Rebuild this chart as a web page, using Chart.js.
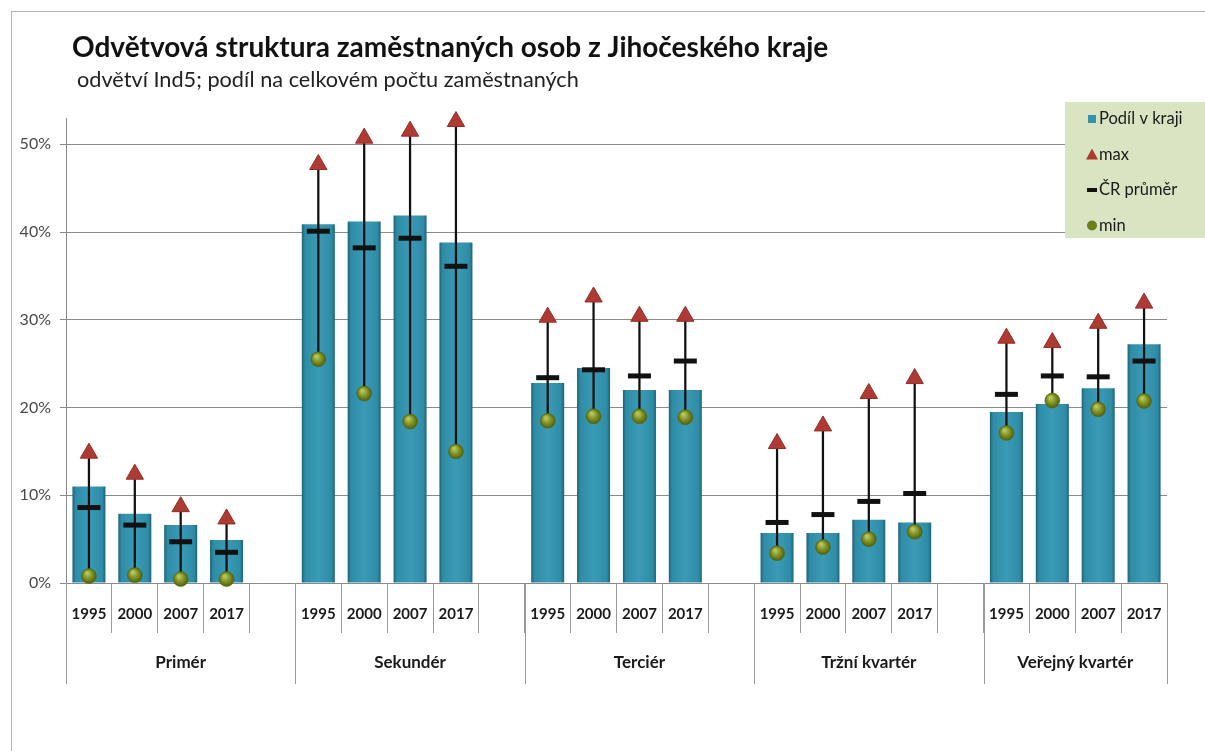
<!DOCTYPE html>
<html>
<head>
<meta charset="utf-8">
<script src="https://cdn.jsdelivr.net/npm/chart.js@4/dist/chart.umd.min.js"></script>
<style>
  html, body { margin: 0; padding: 0; background: #fff; }
  #wrap { width: 1205px; height: 751px; position: relative; }
</style>
</head>
<body>
<div id="wrap"><canvas id="myChart" width="1205" height="751"></canvas></div>
<script>
var years = ['1995', '2000', '2007', '2017'];
var groups = ['Primér', 'Sekundér', 'Terciér', 'Tržní kvartér', 'Veřejný kvartér'];
var yTicks = [0, 10, 20, 30, 40, 50];

// values in %, null = empty gap slot between groups
var share = [11.0, 7.9, 6.6, 4.9, null, 40.9, 41.2, 41.9, 38.8, null, 22.8, 24.5, 22.0, 22.0, null, 5.7, 5.7, 7.2, 6.9, null, 19.5, 20.4, 22.2, 27.2];
var maxVal = [14.8, 12.4, 8.7, 7.3, null, 47.7, 50.7, 51.5, 52.6, null, 30.3, 32.6, 30.4, 30.4, null, 15.9, 17.9, 21.6, 23.3, null, 27.9, 27.4, 29.6, 31.9];
var avgCR = [8.6, 6.6, 4.7, 3.5, null, 40.1, 38.2, 39.3, 36.1, null, 23.4, 24.3, 23.6, 25.3, null, 6.9, 7.8, 9.3, 10.2, null, 21.5, 23.6, 23.5, 25.3];
var minVal = [0.8, 0.9, 0.45, 0.45, null, 25.5, 21.6, 18.4, 15.0, null, 18.5, 19.0, 19.0, 18.9, null, 3.4, 4.1, 5.0, 5.85, null, 17.1, 20.8, 19.8, 20.75];

var labels = [];
groups.forEach(function (g, gi) {
  years.forEach(function (y) { labels.push(y); });
  if (gi < groups.length - 1) labels.push('');
});
var ranges = minVal.map(function (m, i) { return m === null ? null : [m, maxVal[i]]; });

var FONT = 'Lato, "Open Sans", sans-serif';

function barFill(ctx) {
  var chart = ctx.chart;
  var xs = chart.scales.x;
  if (!xs || ctx.dataIndex === undefined) return '#3393ae';
  var cx = xs.getPixelForValue(ctx.dataIndex);
  if (!isFinite(cx)) return '#3393ae';
  var w = 33;
  var g = chart.ctx.createLinearGradient(cx - w / 2, 0, cx + w / 2, 0);
  g.addColorStop(0, '#1d6479');
  g.addColorStop(0.1, '#2f8ca6');
  g.addColorStop(0.5, '#3a9bb6');
  g.addColorStop(0.9, '#2f8ca6');
  g.addColorStop(1, '#1d6479');
  return g;
}

function ballFill(ctx) {
  var chart = ctx.chart;
  var xs = chart.scales.x, ys = chart.scales.y;
  if (!xs || !ys || ctx.dataIndex === undefined || ctx.raw === null || ctx.raw === undefined) return '#788a22';
  var cx = xs.getPixelForValue(ctx.dataIndex);
  var cy = ys.getPixelForValue(ctx.raw);
  if (!isFinite(cx) || !isFinite(cy)) return '#788a22';
  var g = chart.ctx.createRadialGradient(cx - 2, cy - 3, 1, cx, cy, 8);
  g.addColorStop(0, '#b9c65a');
  g.addColorStop(0.5, '#7f9124');
  g.addColorStop(1, '#4c5a0a');
  return g;
}

var decor = {
  id: 'decor',
  beforeDraw: function (chart) {
    var c = chart.ctx;
    c.save();
    c.fillStyle = '#fff';
    c.fillRect(0, 0, chart.width, chart.height);
    c.strokeStyle = '#b4b4b4';
    c.lineWidth = 1;
    c.strokeRect(11.5, 11.5, chart.width, chart.height);
    c.fillStyle = '#111';
    c.font = 'bold 28px ' + FONT;
    c.textBaseline = 'alphabetic';
    c.fillText('Odvětvová struktura zaměstnaných osob z Jihočeského kraje', 72, 57);
    c.fillStyle = '#222';
    c.font = '21.7px ' + FONT;
    c.fillText('odvětví Ind5; podíl na celkovém počtu zaměstnaných', 77, 87);
    c.restore();
  },
  afterDraw: function (chart) {
    var c = chart.ctx;
    var xs = chart.scales.x;
    var area = chart.chartArea;
    var step = xs.getPixelForValue(1) - xs.getPixelForValue(0);
    c.save();
    // group separators and group labels
    c.strokeStyle = '#9a9a9a';
    c.lineWidth = 1;
    var start = 0;
    groups.forEach(function (g, gi) {
      var n = gi < groups.length - 1 ? 5 : 4;
      var x0 = xs.getPixelForValue(start) - step / 2;
      var x1 = xs.getPixelForValue(start + n - 1) + step / 2;
      c.beginPath();
      c.moveTo(Math.round(x0) + 0.5, area.bottom);
      c.lineTo(Math.round(x0) + 0.5, area.bottom + 101);
      c.stroke();
      if (gi === groups.length - 1) {
        c.beginPath();
        c.moveTo(Math.round(x1) + 0.5, area.bottom);
        c.lineTo(Math.round(x1) + 0.5, area.bottom + 101);
        c.stroke();
      }
      c.fillStyle = '#1a1a1a';
      c.font = 'bold 17px ' + FONT;
      c.textAlign = 'center';
      c.textBaseline = 'middle';
      c.fillText(g, (x0 + x1) / 2, area.bottom + 80);
      start += n;
    });

    // legend
    var lx = 1065, ly = 102;
    c.fillStyle = '#d8e4c2';
    c.fillRect(lx, ly, 150, 136);
    var ds = chart.data.datasets;
    var items = [ds[0], ds[3], ds[2], ds[1]];
    c.font = '16.5px ' + FONT;
    c.textAlign = 'left';
    c.textBaseline = 'middle';
    items.forEach(function (d, i) {
      var y = ly + 17 + i * 35.5;
      var ix = lx + 27;
      if (d.type === 'bar') {
        c.fillStyle = '#3393ae';
        c.fillRect(ix - 4, y - 4, 8, 8);
      } else if (d.pointStyle === 'triangle') {
        c.fillStyle = d.pointBackgroundColor;
        c.beginPath();
        c.moveTo(ix, y - 6);
        c.lineTo(ix + 6, y + 5);
        c.lineTo(ix - 6, y + 5);
        c.closePath();
        c.fill();
      } else if (d.pointStyle === 'line') {
        c.fillStyle = '#111';
        c.fillRect(ix - 5, y - 2, 10, 4);
      } else {
        c.fillStyle = '#6d7f1c';
        c.beginPath();
        c.arc(ix, y, 5, 0, Math.PI * 2);
        c.fill();
      }
      c.fillStyle = '#1a1a1a';
      c.fillText(d.label, ix + 7, y);
    });
    c.restore();
  }
};

var data = {
  labels: labels,
  datasets: [{
    type: 'bar',
    label: 'Podíl v kraji',
    data: share,
    backgroundColor: barFill,
    borderWidth: 0,
    grouped: false,
    barPercentage: 0.72,
    categoryPercentage: 1,
    order: 3
  }, {
    type: 'line',
    label: 'min',
    data: minVal,
    showLine: false,
    pointStyle: 'circle',
    pointRadius: 7.5,
    pointBackgroundColor: ballFill,
    pointBorderColor: '#55640f',
    pointBorderWidth: 0.5,
    clip: false,
    order: 0
  }, {
    type: 'line',
    label: 'ČR průměr',
    data: avgCR,
    showLine: false,
    pointStyle: 'line',
    pointRadius: 11.5,
    pointBorderColor: '#111',
    pointBorderWidth: 5,
    clip: false,
    order: 1
  }, {
    type: 'line',
    label: 'max',
    data: maxVal,
    showLine: false,
    pointStyle: 'triangle',
    pointRadius: 10,
    pointBackgroundColor: '#ad3a33',
    pointBorderColor: '#962c26',
    pointBorderWidth: 1,
    clip: false,
    order: 0
  }, {
    type: 'bar',
    label: 'range',
    data: ranges,
    backgroundColor: '#111',
    grouped: false,
    barThickness: 1.6,
    order: 2,
    clip: false
  }]
};

var config = {
  type: 'bar',
  data: data,
  options: {
    responsive: false,
    animation: false,
    layout: { padding: { left: 11, top: 118, right: 38, bottom: 0 } },
    plugins: { legend: { display: false }, tooltip: { enabled: false } },
    scales: {
      x: {
        offset: true,
        grid: { offset: true, drawOnChartArea: false, drawTicks: true, tickLength: 50, color: '#9a9a9a' },
        border: { color: '#8a8a8a' },
        ticks: { autoSkip: false, maxRotation: 0, padding: -28, color: '#1a1a1a', font: { family: FONT, size: 15, weight: 'bold' } },
        afterFit: function (s) { s.height = 168; }
      },
      y: {
        min: 0,
        max: 53,
        afterBuildTicks: function (s) {
          s.ticks = yTicks.map(function (v) { return { value: v }; });
        },
        grid: { color: '#8a8a8a', tickLength: 6 },
        border: { color: '#8a8a8a' },
        ticks: {
          padding: 9,
          color: '#4a4a4a',
          font: { family: FONT, size: 16 },
          callback: function (v) { return v + '%'; }
        },
        afterFit: function (s) { s.width = 55; }
      }
    }
  },
  plugins: [decor]
};

window.onload = function () {
  var myChart = new Chart(document.getElementById('myChart'), config);
};
</script>
</body>
</html>
